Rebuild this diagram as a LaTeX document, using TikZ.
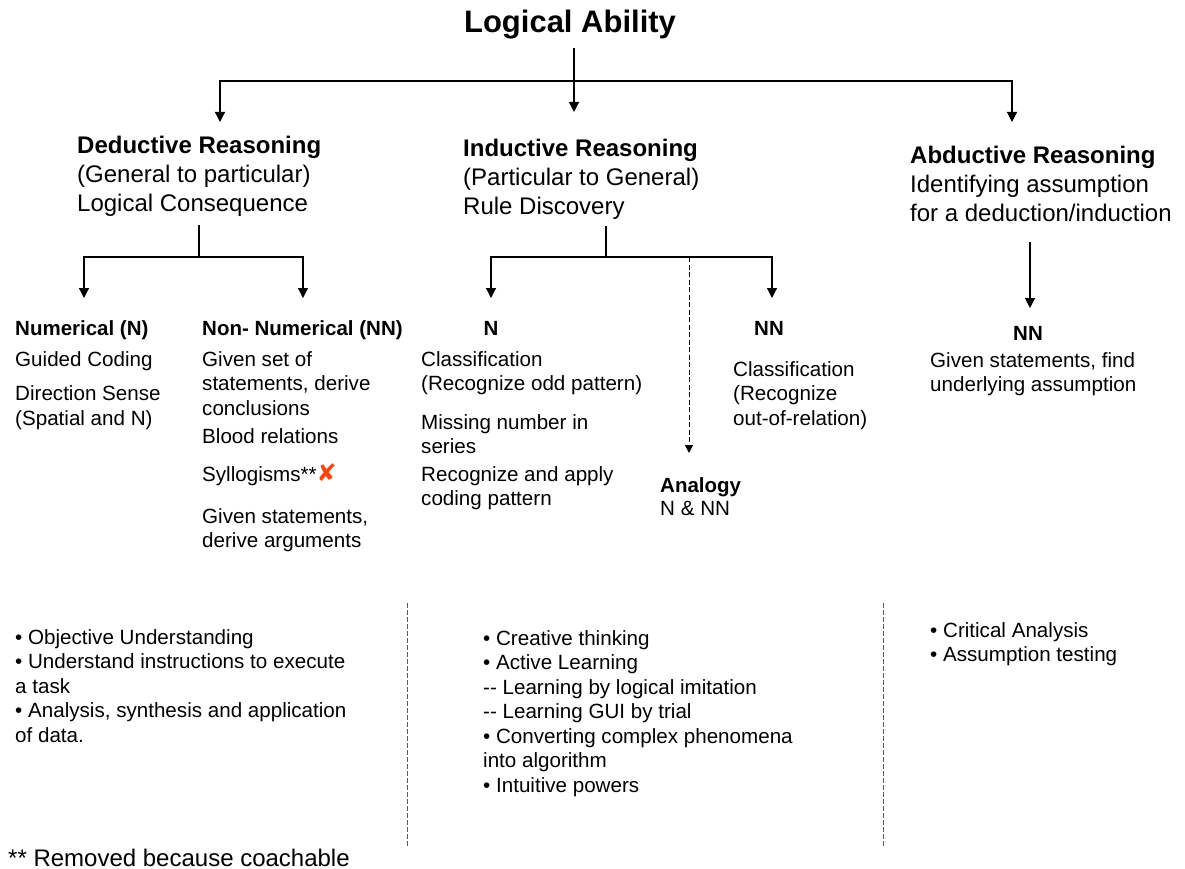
\documentclass[tikz,border=0pt]{standalone}
\usepackage{fontspec}
\setmainfont{Liberation Sans}
\newfontfamily\symfont{DejaVu Sans}
\usetikzlibrary{arrows.meta}
\definecolor{xred}{RGB}{245,70,20}
\definecolor{sepgray}{RGB}{90,90,90}
\newcommand\dashdash{\mbox{-}\mbox{-}}
\begin{document}
\begin{tikzpicture}[x=1pt,y=-1pt,
  ln/.style={line width=1.2pt},
  arr/.style={line width=1.2pt,-{Triangle[width=10pt,length=10pt]}},
  dsh/.style={line width=1pt,dash pattern=on 5pt off 2.5pt,-{Triangle[width=8pt,length=8pt]}},
  sepline/.style={line width=0.9pt,sepgray,dash pattern=on 5pt off 2pt},
  ttl/.style={font=\bfseries\fontsize{31}{37}\selectfont,inner sep=0,anchor=base},
  hd/.style={font=\fontsize{24}{29}\selectfont,align=left,anchor=north west,inner sep=0},
  subh/.style={font=\bfseries\fontsize{20.5}{25}\selectfont,inner sep=0},
  bd/.style={font=\fontsize{20.6}{24.5}\selectfont,align=left,anchor=north west,inner sep=0},
  foot/.style={font=\fontsize{24}{28}\selectfont,inner sep=0,anchor=base west}]
\useasboundingbox (0,0) rectangle (1185,869);

% title
\node[ttl] (title) at (570,33) {Logical Ability};

% main headers
\node[hd] (ded) at (77,133.2) {\strut\textbf{Deductive Reasoning}\\(General to particular)\\Logical Consequence};
\node[hd] (ind) at (463,135.7) {\strut\textbf{Inductive Reasoning}\\(Particular to General)\\Rule Discovery};
\node[hd] (abd) at (910,143.2) {\strut\textbf{Abductive Reasoning}\\Identifying assumption\\for a deduction/induction};

% deductive children
\node[subh,anchor=base west] (numH) at (15,335) {Numerical (N)};
\node[bd] (numB) at (15,348.85) {\strut Guided Coding\\[10pt]Direction Sense\\(Spatial and N)};
\node[subh,anchor=base west] (nnH) at (202,335) {Non- Numerical (NN)};
\node[bd] (nnB) at (202,348.85) {\strut Given set of\\statements, derive\\conclusions\\[3.5pt]Blood relations\\[13.5pt]Syllogisms**{\symfont\fontsize{24}{24}\selectfont\color{xred}✘}\\[17.5pt]Given statements,\\derive arguments};

% inductive children
\node[subh,anchor=base] (inNH) at (491,335) {N};
\node[bd] (inNB) at (421,348.85) {\strut Classification\\(Recognize odd pattern)\\[14pt]Missing number in\\series\\[3pt]Recognize and apply\\coding pattern};
\node[subh,anchor=base] (inNNH) at (769,335) {NN};
\node[bd] (inNNB) at (733,358.85) {\strut Classification\\(Recognize\\out-of-relation)};
\node[subh,anchor=base west] (anaH) at (660,492) {Analogy};
\node[bd] (anaB) at (660,497.85) {\strut N \& NN};

% abductive child
\node[subh,anchor=base] (abNH) at (1028,340) {NN};
\node[bd] (abB) at (930,349.85) {\strut Given statements, find\\underlying assumption};

% bottom lists
\node[bd] (b1) at (15,626.85) {\strut • Objective Understanding\\• Understand instructions to execute\\a task\\• Analysis, synthesis and application\\of data.};
\node[bd] (b2) at (483,627.85) {\strut • Creative thinking\\• Active Learning\\\dashdash{} Learning by logical imitation\\\dashdash{} Learning GUI by trial\\• Converting complex phenomena\\into algorithm\\• Intuitive powers};
\node[bd] (b3) at (930,619.85) {\strut • Critical Analysis\\• Assumption testing};

\node[foot] (fn) at (8,866) {** Removed because coachable};

% connector coordinates
\coordinate (t0) at (574,48);
\coordinate (tj) at (574,81);
\coordinate (dedTip) at (220,122);
\coordinate (indTip) at (574,112);
\coordinate (abdTip) at (1012,122);
\coordinate (ds0) at (199,225);
\coordinate (dsj) at (199,257);
\coordinate (numTip) at (84,298);
\coordinate (nnTip) at (303,298);
\coordinate (is0) at (606,226);
\coordinate (isj) at (606,257);
\coordinate (inNTip) at (491,298);
\coordinate (inNNTip) at (772,298);
\coordinate (anaTop) at (689,257);
\coordinate (anaTip) at (689,453);
\coordinate (ab0) at (1030,242);
\coordinate (abTip) at (1030,308);
\coordinate (s1a) at (407,603);
\coordinate (s1b) at (407,847);
\coordinate (s2a) at (883,603);
\coordinate (s2b) at (883,847);

% connectors
\draw[arr] (t0) -- (indTip);
\draw[arr] (tj) -| (dedTip);
\draw[arr] (tj) -| (abdTip);
\draw[ln] (ds0) -- (dsj);
\draw[arr] (dsj) -| (numTip);
\draw[arr] (dsj) -| (nnTip);
\draw[ln] (is0) -- (isj);
\draw[arr] (isj) -| (inNTip);
\draw[arr] (isj) -| (inNNTip);
\draw[dsh] (anaTop) -- (anaTip);
\draw[arr] (ab0) -- (abTip);

% separators
\draw[sepline] (s1a) -- (s1b);
\draw[sepline] (s2a) -- (s2b);
\end{tikzpicture}
\end{document}
